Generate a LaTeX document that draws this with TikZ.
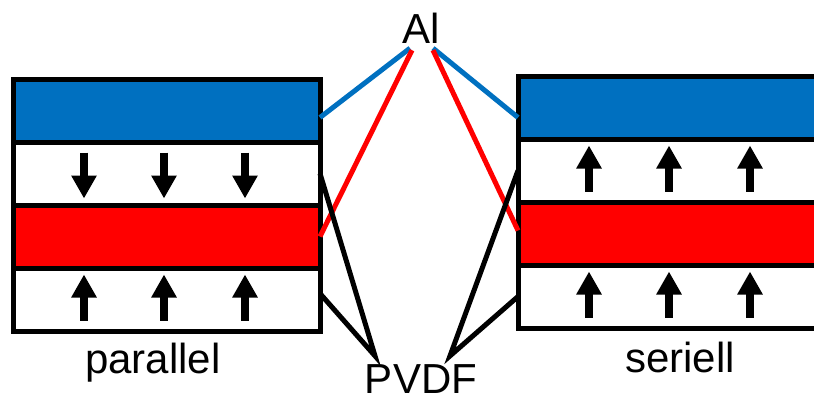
\documentclass[tikz,border=0pt]{standalone}
\usepackage{fontspec}
\setmainfont{Liberation Sans}
\usetikzlibrary{arrows.meta,positioning}
\definecolor{alblue}{RGB}{0,112,192}
\definecolor{alred}{RGB}{255,0,0}
\tikzstyle{layer} = [draw,line width=5pt,rectangle,inner sep=0,outer sep=0,minimum width=307pt,minimum height=63pt]
\tikzstyle{txt} = [inner sep=2pt,font=\fontsize{42}{48}\selectfont]
\tikzstyle{pol} = [line width=8.5pt,-{Triangle[width=24pt,length=23pt]}]
\tikzstyle{wire} = [line width=5pt]

\begin{document}
\begin{tikzpicture}[x=1pt,y=-1pt]
  \clip (0,0) rectangle (814,392);
  % parallel stack
  \node[layer,fill=alblue,anchor=north west] (lA) at (13,79) {};
  \node[layer,below=0pt of lA] (lP1) {};
  \node[layer,fill=alred,below=0pt of lP1] (lB) {};
  \node[layer,below=0pt of lB] (lP2) {};
  % serial stack
  \node[layer,fill=alblue,anchor=north west] (rA) at (518,76) {};
  \node[layer,below=0pt of rA] (rP1) {};
  \node[layer,fill=alred,below=0pt of rP1] (rB) {};
  \node[layer,below=0pt of rB] (rP2) {};
  % polarisation
  \foreach \dx in {71,151,232} {
    \draw[pol] ([shift={(\dx,-21)}]lP1.west) -- ([shift={(\dx,25)}]lP1.west);
    \draw[pol] ([shift={(\dx,21)}]lP2.west) -- ([shift={(\dx,-25)}]lP2.west);
    \draw[pol] ([shift={(\dx,21)}]rP1.west) -- ([shift={(\dx,-25)}]rP1.west);
    \draw[pol] ([shift={(\dx,21)}]rP2.west) -- ([shift={(\dx,-25)}]rP2.west);
  }
  % labels
  \node[txt,anchor=base] (Al) at (421,43) {Al};
  \node[txt,anchor=base] (PVDF) at (421,393) {PVDF};
  \node[txt,anchor=base] (par) at (153,373) {parallel};
  \node[txt,anchor=base] (ser) at (680,372) {seriell};
  % electrodes
  \draw[wire,alblue] ([xshift=-11pt,yshift=-3pt]Al.south) -- ([yshift=-7pt]lA.east);
  \draw[wire,alred] ([xshift=-9pt,yshift=-5pt]Al.south) -- (lB.east);
  \draw[wire,alblue] ([xshift=12pt,yshift=-3pt]Al.south) -- ([yshift=-10pt]rA.west);
  \draw[wire,alred] ([xshift=12pt,yshift=-5pt]Al.south) -- ([yshift=3pt]rB.west);
  % films
  \draw[wire] (lP1.east) -- ([xshift=-46pt,yshift=6pt]PVDF.north) -- ([yshift=6pt]lP2.east);
  \draw[wire] (rP1.west) -- ([xshift=29pt,yshift=6pt]PVDF.north) -- (rP2.west);
\end{tikzpicture}
\end{document}
